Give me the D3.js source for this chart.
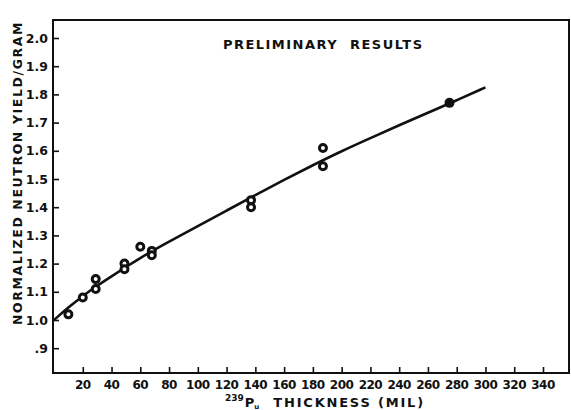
<!DOCTYPE html>
<html>
<head>
<meta charset="utf-8">
<script src="https://cdn.jsdelivr.net/npm/d3@7"></script>
<style>
  body { margin: 0; background: #fff; }
  svg { display: block; }
  text { font-family: "DejaVu Sans", sans-serif; font-weight: bold; fill: #111; }
</style>
</head>
<body>
<script>
var width = 571,
    height = 410;

// measured points (thickness in mil, normalized yield)
const thickness = [10, 20, 29, 29, 49, 49, 60, 68, 68, 137, 137, 187, 187, 275];
const yieldVals = [1.02, 1.08, 1.145, 1.11, 1.20, 1.18, 1.26, 1.245, 1.23, 1.425, 1.40, 1.61, 1.545, 1.77];

// hand drawn fit curve
const curveX = [0, 10, 20, 30, 40, 50, 60, 70, 80, 100, 120, 140, 160, 180, 200, 220, 240, 260, 280, 300];
const curveY = [1.0, 1.045, 1.085, 1.122, 1.155, 1.188, 1.22, 1.25, 1.278, 1.333, 1.388, 1.443, 1.497, 1.549, 1.599, 1.645, 1.691, 1.735, 1.779, 1.825];

const xTicks = [20, 40, 60, 80, 100, 120, 140, 160, 180, 200, 220, 240, 260, 280, 300, 320, 340];
const yTicks = [0.9, 1.0, 1.1, 1.2, 1.3, 1.4, 1.5, 1.6, 1.7, 1.8, 1.9, 2.0];
const yTickLabels = [".9", "1.0", "1.1", "1.2", "1.3", "1.4", "1.5", "1.6", "1.7", "1.8", "1.9", "2.0"];

const frame = { left: 53, right: 569, top: 20, bottom: 373 };

const x = d3.scaleLinear().domain([0, 340]).range([54, 543]);
const y = d3.scaleLinear().domain([1.0, 2.0]).range([320, 38]);

const svg = d3.select("body").append("svg")
    .attr("width", width)
    .attr("height", height);

// frame
svg.append("rect")
    .attr("x", frame.left)
    .attr("y", frame.top)
    .attr("width", frame.right - frame.left)
    .attr("height", frame.bottom - frame.top)
    .attr("fill", "none")
    .attr("stroke", "#111")
    .attr("stroke-width", 2);

// x axis, ticks pointing inward
const xAxis = svg.append("g")
    .attr("transform", "translate(0," + frame.bottom + ")")
    .call(d3.axisTop(x).tickValues(xTicks).tickSize(6).tickFormat(""));
xAxis.select(".domain").remove();
xAxis.selectAll("line").attr("stroke", "#111").attr("stroke-width", 1.6);

svg.append("g")
    .selectAll("text")
    .data(xTicks)
    .join("text")
    .attr("x", function (d) { return x(d); })
    .attr("y", 389)
    .attr("text-anchor", "middle")
    .attr("font-size", 12)
    .attr("letter-spacing", -0.5)
    .text(function (d) { return d; });

// y axis
const yAxis = svg.append("g")
    .attr("transform", "translate(" + frame.left + ",0)")
    .call(d3.axisRight(y).tickValues(yTicks).tickSize(6).tickFormat(""));
yAxis.select(".domain").remove();
yAxis.selectAll("line").attr("stroke", "#111").attr("stroke-width", 1.6);

svg.append("g")
    .selectAll("text")
    .data(yTicks)
    .join("text")
    .attr("x", 48)
    .attr("y", function (d) { return y(d) + 4.5; })
    .attr("text-anchor", "end")
    .attr("font-size", 12.5)
    .text(function (d, i) { return yTickLabels[i]; });

// fit curve
const line = d3.line()
    .x(function (d) { return x(d[0]); })
    .y(function (d) { return y(d[1]); })
    .curve(d3.curveBasis);

svg.append("path")
    .datum(curveX.map(function (v, i) { return [v, curveY[i]]; }))
    .attr("d", line)
    .attr("fill", "none")
    .attr("stroke", "#111")
    .attr("stroke-width", 2.6);

// data points
svg.append("g")
    .selectAll("circle")
    .data(thickness.map(function (v, i) { return [v, yieldVals[i]]; }))
    .join("circle")
    .attr("cx", function (d) { return x(d[0]); })
    .attr("cy", function (d) { return y(d[1]); })
    .attr("r", 3.5)
    .attr("fill", function (d) { return d[0] > 250 ? "#111" : "#fff"; })
    .attr("stroke", "#111")
    .attr("stroke-width", 3);

// annotation
svg.append("text")
    .attr("x", 223)
    .attr("y", 49)
    .attr("font-size", 13)
    .attr("textLength", 199)
    .attr("lengthAdjust", "spacing")
    .style("white-space", "pre")
    .text("PRELIMINARY  RESULTS");

// y title
svg.append("text")
    .attr("transform", "translate(22,173) rotate(-90)")
    .attr("text-anchor", "middle")
    .attr("font-size", 12.5)
    .attr("letter-spacing", 1.6)
    .text("NORMALIZED NEUTRON YIELD/GRAM");

// x title with isotope notation
const xt = svg.append("text")
    .attr("x", 225)
    .attr("y", 407)
    .attr("font-size", 13);
xt.append("tspan").attr("font-size", 9).attr("dy", -6).text("239");
xt.append("tspan").attr("dy", 6).attr("dx", 1).text("P");
xt.append("tspan").attr("font-size", 7).attr("dy", 2).text("u");
xt.append("tspan").attr("dy", -2).attr("dx", 14).attr("letter-spacing", 1.8).text("THICKNESS (MIL)");
</script>
</body>
</html>
